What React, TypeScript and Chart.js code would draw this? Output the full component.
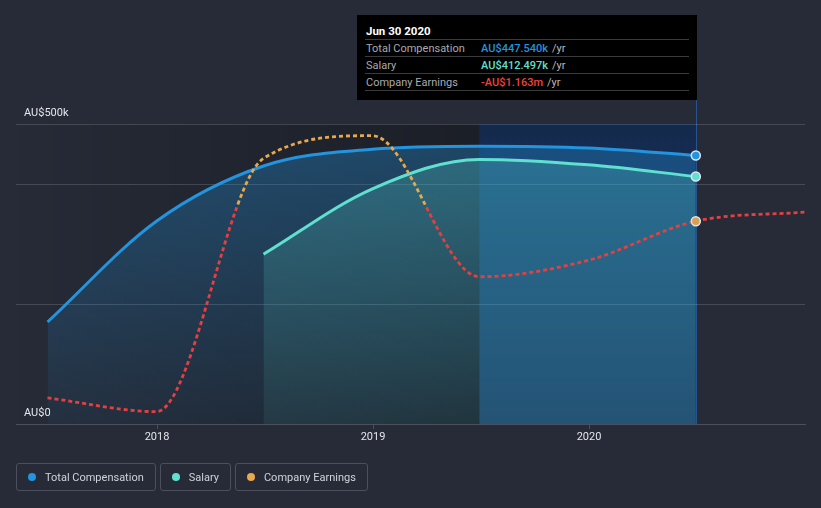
import React, { useEffect, useRef } from "react";
import { Chart, registerables } from "chart.js";

Chart.register(...registerables);

// ---------- data ----------
const compDates = ["2017-06-30", "2017-12-31", "2018-06-30", "2018-12-31", "2019-06-30", "2019-12-31", "2020-06-30"];
const totalCompensation = [170000, 338000, 430000, 458000, 463000, 460000, 447540];

const salaryDates = ["2018-06-30", "2018-12-31", "2019-06-30", "2019-12-31", "2020-06-30"];
const salary = [283000, 392000, 441000, 432000, 412497];

const earningsDates = ["2017-06-30", "2017-12-31", "2018-06-30", "2018-12-31", "2019-06-30", "2019-12-31", "2020-06-30", "2020-12-31"];
const companyEarnings = [-14.0e6, -15.0e6, 3.4e6, 5.05e6, -5.2e6, -4.0e6, -1.163e6, -0.5e6];

const xTickYears = [2018, 2019, 2020];
const yGridValues = [0, 200000, 400000, 500000];
const yLabelValues = [0, 500000];
const yLabelTexts = ["AU$0", "AU$500k"];

const hoveredDate = "2020-06-30";
const previousDate = "2019-06-30";

const tooltipTitle = "Jun 30 2020";
const tooltipLabels = ["Total Compensation", "Salary", "Company Earnings"];
const tooltipValues = ["AU$447.540k", "AU$412.497k", "-AU$1.163m"];
const legendLabels = ["Total Compensation", "Salary", "Company Earnings"];

// ---------- styles ----------
const BG = "#262b37";
const BLUE = "#2394df";
const TEAL = "#5fe0d0";
const ORANGE = "#e9a84c";
const RED = "#e5403f";
const FONT = "Roboto, 'Noto Sans', sans-serif";

const toYear = (d: string) => {
  const [y, m, day] = d.split("-").map(Number);
  const start = Date.UTC(y, 0, 1);
  const end = Date.UTC(y + 1, 0, 1);
  return y + (Date.UTC(y, m - 1, day) - start) / (end - start);
};

const vGrad = (chart: any, top: string, bottom: string) => {
  const a = chart.chartArea;
  if (!a) return top;
  const g = chart.ctx.createLinearGradient(0, a.top, 0, a.bottom);
  g.addColorStop(0, top);
  g.addColorStop(1, bottom);
  return g;
};

const decorPlugin = {
  id: "decor",
  beforeDraw(chart: any) {
    const { ctx, chartArea: a, scales } = chart;
    if (!a) return;
    const xFrom = scales.x.getPixelForValue(toYear(previousDate));
    const xTo = scales.x.getPixelForValue(toYear(hoveredDate));
    ctx.save();
    const g = ctx.createLinearGradient(a.left, 0, xFrom, 0);
    g.addColorStop(0, "rgba(0,0,0,0)");
    g.addColorStop(1, "rgba(0,0,0,0.28)");
    ctx.fillStyle = g;
    ctx.fillRect(a.left, a.top, xFrom - a.left, a.bottom - a.top);
    const b = ctx.createLinearGradient(0, a.top, 0, a.bottom);
    b.addColorStop(0, "rgba(5,40,95,0.55)");
    b.addColorStop(1, "rgba(25,90,150,0.5)");
    ctx.fillStyle = b;
    ctx.fillRect(xFrom, a.top, xTo - xFrom, a.bottom - a.top);
    ctx.strokeStyle = "rgba(40,110,200,0.6)";
    ctx.lineWidth = 1;
    ctx.beginPath();
    ctx.moveTo(Math.round(xTo) + 0.5, 100);
    ctx.lineTo(Math.round(xTo) + 0.5, a.bottom);
    ctx.stroke();
    ctx.restore();
  },
  afterDraw(chart: any) {
    const { ctx, chartArea: a, scales } = chart;
    ctx.save();
    ctx.font = `11px ${FONT}`;
    ctx.fillStyle = "#e4e6ea";
    ctx.textBaseline = "alphabetic";
    ctx.textAlign = "left";
    yLabelValues.forEach((v, i) => {
      const y = scales.y.getPixelForValue(v);
      ctx.fillText(yLabelTexts[i], a.left + 8, y - 8);
    });
    ctx.restore();
  },
};

export default function App() {
  const ref = useRef<HTMLCanvasElement>(null);

  useEffect(() => {
    document.body.style.margin = "0";
    document.body.style.background = BG;
    const hovered = (dates: string[], r: number) => dates.map((d) => (d === hoveredDate ? r : 0));

    const chart = new Chart(ref.current as HTMLCanvasElement, {
      type: "line",
      data: {
        datasets: [
          {
            label: "Company Earnings",
            data: earningsDates.map((d, i) => ({ x: toYear(d), y: companyEarnings[i] })),
            yAxisID: "y2",
            order: 0,
            fill: false,
            borderWidth: 2.8,
            borderDash: [4, 3],
            borderColor: (c: any) => {
              const chart = c.chart;
              const a = chart.chartArea;
              if (!a || !chart.scales.y2) return RED;
              const y0 = chart.scales.y2.getPixelForValue(0);
              const f = Math.min(1, Math.max(0, (y0 - a.top) / (a.bottom - a.top)));
              const g = chart.ctx.createLinearGradient(0, a.top, 0, a.bottom);
              g.addColorStop(0, ORANGE);
              g.addColorStop(f, ORANGE);
              g.addColorStop(f, RED);
              g.addColorStop(1, RED);
              return g;
            },
            cubicInterpolationMode: "monotone",
            pointRadius: hovered(earningsDates, 4.5),
            pointBackgroundColor: "#d7a052",
            pointBorderColor: "#dfe6ee",
            pointBorderWidth: 1.5,
          },
          {
            label: "Salary",
            data: salaryDates.map((d, i) => ({ x: toYear(d), y: salary[i] })),
            yAxisID: "y",
            order: 1,
            fill: "origin",
            backgroundColor: (c: any) => vGrad(c.chart, "rgba(95,224,208,0.26)", "rgba(95,224,208,0.08)"),
            borderColor: TEAL,
            borderWidth: 3,
            cubicInterpolationMode: "monotone",
            pointRadius: hovered(salaryDates, 4.5),
            pointBackgroundColor: TEAL,
            pointBorderColor: "#dfe6ee",
            pointBorderWidth: 1.5,
          },
          {
            label: "Total Compensation",
            data: compDates.map((d, i) => ({ x: toYear(d), y: totalCompensation[i] })),
            yAxisID: "y",
            order: 2,
            fill: "origin",
            backgroundColor: (c: any) => vGrad(c.chart, "rgba(35,148,223,0.36)", "rgba(35,148,223,0.06)"),
            borderColor: BLUE,
            borderWidth: 3,
            cubicInterpolationMode: "monotone",
            pointRadius: hovered(compDates, 4.5),
            pointBackgroundColor: BLUE,
            pointBorderColor: "#dfe6ee",
            pointBorderWidth: 1.5,
          },
        ],
      },
      options: {
        responsive: false,
        animation: false,
        events: [],
        layout: { padding: { left: 16, right: 16, top: 124, bottom: 0 } },
        plugins: { legend: { display: false }, tooltip: { enabled: false } },
        scales: {
          x: {
            type: "linear",
            min: 2017.3472,
            max: 2021.0,
            afterBuildTicks: (s: any) => {
              s.ticks = xTickYears.map((v) => ({ value: v }));
            },
            afterFit: (s: any) => {
              s.height = 84;
            },
            ticks: {
              callback: (v: any) => String(v),
              color: "#e4e6ea",
              font: { family: FONT, size: 11 },
              padding: 2,
              maxRotation: 0,
            },
            grid: { drawOnChartArea: false, drawTicks: true, tickLength: 5, color: "#4b505c" },
            border: { display: true, color: "#4b505c", width: 1 },
          },
          y: {
            type: "linear",
            min: 0,
            max: 500000,
            afterBuildTicks: (s: any) => {
              s.ticks = yGridValues.map((v) => ({ value: v }));
            },
            afterFit: (s: any) => {
              s.width = 0;
            },
            ticks: { display: false },
            grid: { color: "rgba(255,255,255,0.15)", drawTicks: false },
            border: { display: false },
          },
          y2: {
            type: "linear",
            display: false,
            min: -15.9e6,
            max: 5.9e6,
          },
        },
      },
      plugins: [decorPlugin],
    } as any);
    return () => chart.destroy();
  }, []);

  const valueColors = [BLUE, TEAL, "#f0423f"];
  const legendColors = [BLUE, TEAL, ORANGE];

  return (
    <div style={{ position: "relative", width: 821, height: 508, background: BG, overflow: "hidden", fontFamily: FONT }}>
      <canvas ref={ref} width={821} height={508} style={{ position: "absolute", left: 0, top: 0, width: 821, height: 508 }} />
      <div
        style={{
          position: "absolute",
          left: 357,
          top: 15,
          width: 340,
          height: 85,
          background: "#000",
          boxSizing: "border-box",
          padding: "0 8px",
          fontSize: 11,
        }}
      >
        <div style={{ height: 24, lineHeight: "32px", color: "#fff", fontWeight: 700, fontSize: 11.5, paddingLeft: 1, borderBottom: "1px solid #3b3b3b" }}>
          {tooltipTitle}
        </div>
        {tooltipLabels.map((l, i) => (
          <div key={l} style={{ display: "flex", height: 16, lineHeight: "17px", borderBottom: "1px solid #3b3b3b" }}>
            <span style={{ width: 115, color: "#a9abaf", paddingLeft: 1 }}>{l}</span>
            <span style={{ color: valueColors[i], fontWeight: 500 }}>{tooltipValues[i]}</span>
            <span style={{ color: "#b8babe", marginLeft: 4 }}>/yr</span>
          </div>
        ))}
      </div>
      <div style={{ position: "absolute", left: 16, top: 463, display: "flex", gap: 4 }}>
        {legendLabels.map((l, i) => (
          <div
            key={l}
            style={{
              height: 28,
              boxSizing: "border-box",
              border: "1px solid #4b505c",
              borderRadius: 3,
              display: "flex",
              alignItems: "center",
              padding: "0 11px 0 11px",
              color: "#cfd3da",
              fontSize: 11,
            }}
          >
            <span style={{ width: 8, height: 8, borderRadius: 4, background: legendColors[i], marginRight: 9, display: "inline-block" }} />
            {l}
          </div>
        ))}
      </div>
    </div>
  );
}
